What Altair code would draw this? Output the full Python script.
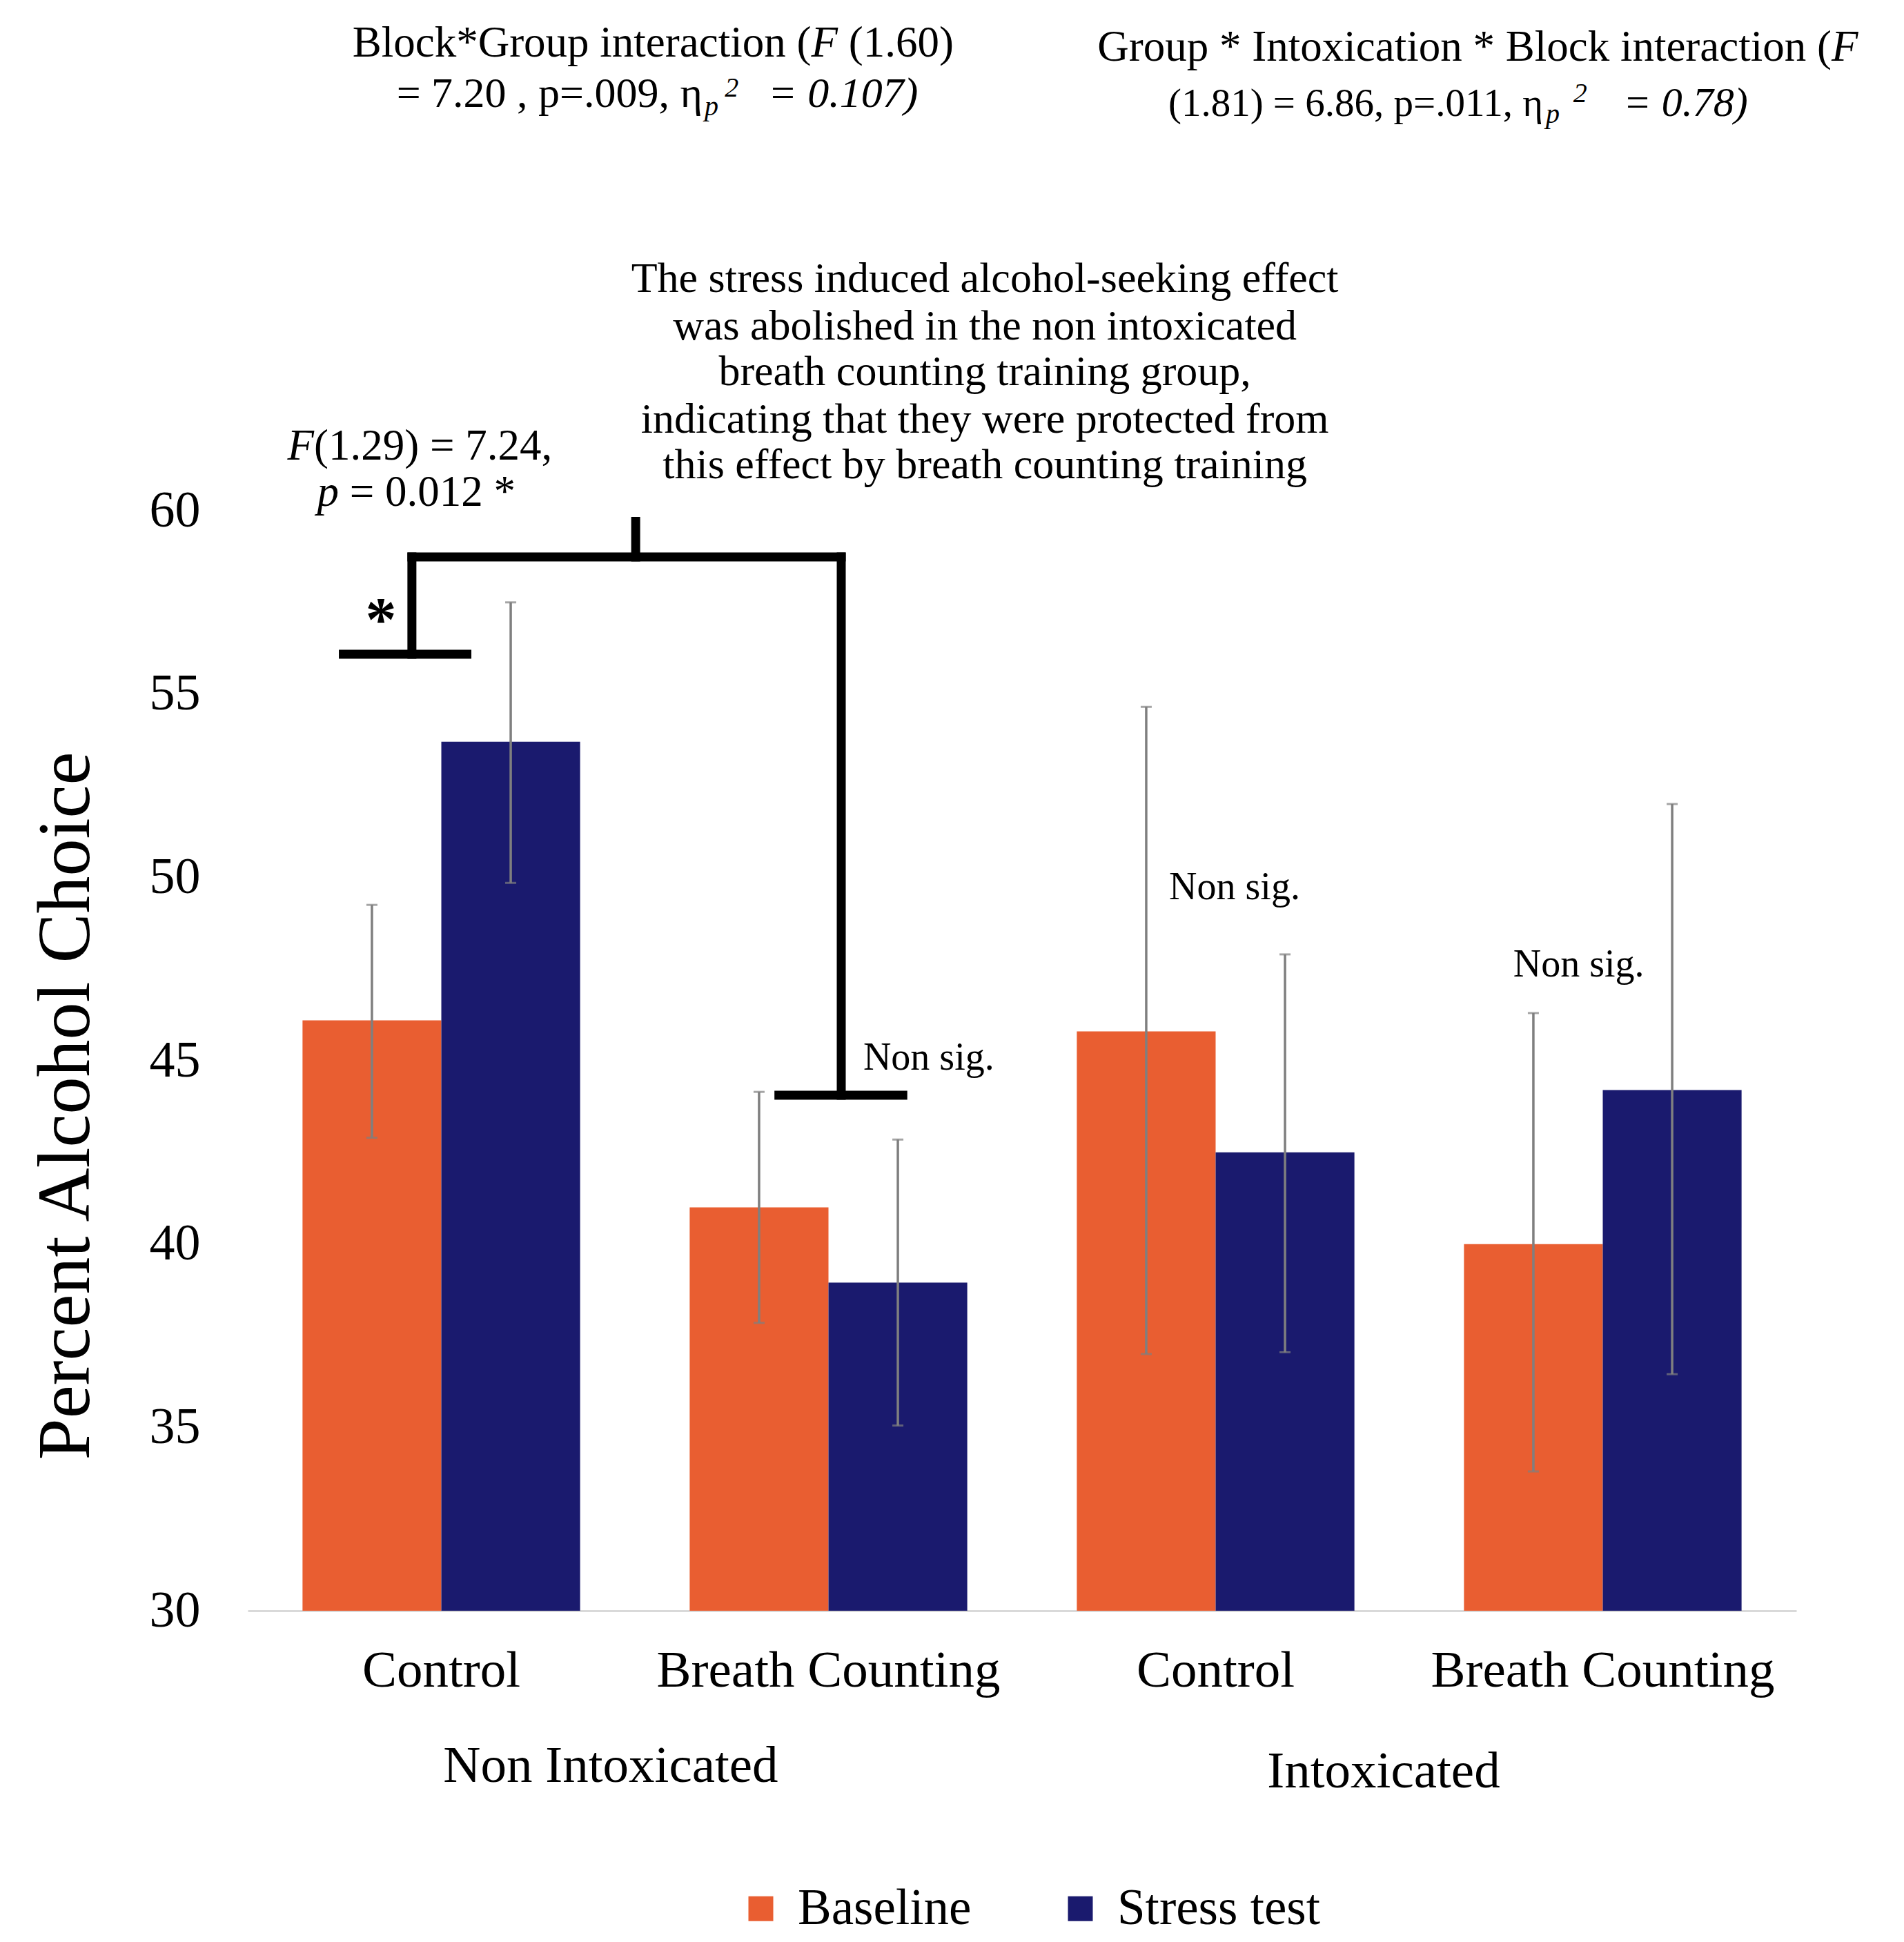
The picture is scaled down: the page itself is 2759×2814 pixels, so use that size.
import altair as alt
import pandas as pd

# ---------------- data ----------------
intox = ["Non Intoxicated", "Non Intoxicated", "Intoxicated", "Intoxicated"]
training = ["Control", "Breath Counting", "Control", "Breath Counting"]
series = ["Baseline", "Stress test"]
colors = ["#E95E31", "#1A1A6E"]

baseline_mean = [46.1, 41.0, 45.8, 40.0]
baseline_low = [42.9, 37.85, 37.0, 33.8]
baseline_high = [49.25, 44.15, 54.65, 46.3]
stress_mean = [53.7, 38.95, 42.5, 44.2]
stress_low = [49.85, 35.05, 37.05, 36.45]
stress_high = [57.5, 42.85, 47.9, 52.0]

y_ticks = [30, 35, 40, 45, 50, 55, 60]

# annotation texts (x in group units 0..4, y in data units)
center_texts = [
    "The stress induced alcohol-seeking effect",
    "was abolished in the non intoxicated",
    "breath counting training group,",
    "indicating that they were protected from",
    "this effect by breath counting training",
    "Non sig.",
    "Non sig.",
    "Non sig.",
    "Non Intoxicated",
    "Intoxicated",
]
center_x = [1.904, 1.904, 1.904, 1.904, 1.904, 1.759, 2.549, 3.438, 0.9376, 2.934]
center_y = [65.966, 64.668, 63.426, 62.127, 60.885, 44.755, 49.40, 47.30, 25.33, 25.18]
center_fs = [62, 62, 62, 62, 62, 56, 56, 56, 75, 75]

right_texts = ["Block*Group interaction (", "Group * Intoxication * Block interaction (",
               "= 7.20 , p=.009, η", "(1.81) = 6.86, p=.011, η"]
right_x = [1.4554, 4.0909, 1.1747, 3.346]
right_y = [72.385, 72.27, 71.01, 70.766]
right_fs = [63, 63, 62, 57]

left_texts = ["(1.60)", "(1.29) = 7.24,", "= 0.012 *"]
left_x = [1.5521, 0.1711, 0.2634]
left_y = [72.385, 61.39, 60.13]
left_fs = [63, 63, 63]

italic_left_texts = ["F", "p", "2", "= 0.107)", "p", "2", "= 0.78)"]
italic_left_x = [1.4554, 1.180, 1.232, 1.344, 3.353, 3.424, 3.553]
italic_left_y = [72.385, 70.785, 71.293, 71.01, 70.578, 71.14, 70.766]
italic_left_fs = [63, 40, 40, 62, 40, 40, 60]

italic_right_texts = ["F", "F", "p"]
italic_right_x = [4.1595, 0.1711, 0.2353]
italic_right_y = [72.27, 61.39, 60.13]
italic_right_fs = [63, 63, 63]

star_text = ["*"]
star_x = [0.344]
star_y = [56.46]

# significance brackets
br_x1 = [0.247, 0.424, 0.424, 1.002, 1.533, 1.372]
br_x2 = [0.566, 0.424, 1.533, 1.002, 1.533, 1.692]
br_y1 = [56.085, 56.085, 58.74, 58.74, 58.74, 44.06]
br_y2 = [56.085, 58.74, 58.74, 59.71, 44.06, 44.06]

# ---------------- tables ----------------
conds = [f"{a}|{b}" for a, b in zip(intox, training)]
rows = []
for i, c in enumerate(conds):
    rows.append(dict(cond=c, series="Baseline", mean=baseline_mean[i],
                     lo=baseline_low[i], hi=baseline_high[i]))
    rows.append(dict(cond=c, series="Stress test", mean=stress_mean[i],
                     lo=stress_low[i], hi=stress_high[i]))
df = pd.DataFrame(rows)
caps = pd.concat([
    df[["cond", "series"]].assign(v=df["lo"]),
    df[["cond", "series"]].assign(v=df["hi"]),
])


def tdf(x, y, text, fs):
    return pd.DataFrame(dict(ax=x, y=y, text=text, fs=fs))


ctext = tdf(center_x, center_y, center_texts, center_fs)
rtext = tdf(right_x, right_y, right_texts, right_fs)
ltext = tdf(left_x, left_y, left_texts, left_fs)
iltext = tdf(italic_left_x, italic_left_y, italic_left_texts, italic_left_fs)
irtext = tdf(italic_right_x, italic_right_y, italic_right_texts, italic_right_fs)
stext = pd.DataFrame(dict(ax=star_x, y=star_y, text=star_text))
brk = pd.DataFrame(dict(x1=br_x1, x2=br_x2, y1=br_y1, y2=br_y2))

FONT = "Liberation Serif"


def yscale():
    return alt.Scale(domain=[30, 60], nice=False, zero=False)


def ax_scale():
    return alt.Scale(domain=[0, 4], nice=False, zero=False)


def band_scale():
    return alt.Scale(domain=conds, paddingInner=0.283, paddingOuter=0.1415)


x_main = alt.X(
    "cond:N", sort=conds, scale=band_scale(),
    axis=alt.Axis(
        title=None, labelExpr="split(datum.value, '|')[1]", labelAngle=0,
        labelFont=FONT, labelFontSize=75, labelColor="black", labelLimit=1000,
        labelBaseline="alphabetic", labelPadding=109, ticks=False, tickSize=0,
        domainColor="#D9D9D9", domainWidth=3, grid=False, labelOverlap=False,
    ),
)


def x_plain():
    return alt.X("cond:N", sort=conds, scale=band_scale(), axis=None)


xoff = alt.XOffset("series:N", sort=series,
                   scale=alt.Scale(domain=series, paddingInner=0, paddingOuter=0))

bars = alt.Chart(df).mark_bar().encode(
    x=x_main,
    xOffset=xoff,
    y=alt.Y("mean:Q", scale=yscale(), axis=alt.Axis(
        values=y_ticks, title="Percent Alcohol Choice", grid=False,
        domain=False, ticks=False, tickSize=0, labelPadding=69,
        labelFont=FONT, labelFontSize=74, labelColor="black",
        labelOverlap=False,
        titleFont=FONT, titleFontSize=108, titleFontWeight="normal",
        titleColor="black", titleX=-231, titleY=862,
        titleBaseline="alphabetic", titleAngle=270, orient="left",
    )),
    y2=alt.datum(30),
    color=alt.Color("series:N", sort=series,
                    scale=alt.Scale(domain=series, range=colors),
                    legend=alt.Legend(
                        title=None, orient="none", legendX=707, legendY=1989,
                        direction="horizontal", symbolType="square",
                        symbolSize=1296, symbolStrokeWidth=0,
                        labelFont=FONT, labelFontSize=73, labelColor="black",
                        labelLimit=1000, labelOffset=17, columnPadding=121,
                        padding=0,
                    )),
)

err = alt.Chart(df).mark_rule(color="#7F7F7F", strokeWidth=3.5).encode(
    x=x_plain(), xOffset=xoff,
    y=alt.Y("lo:Q", scale=yscale(), axis=None), y2="hi:Q",
)
capm = alt.Chart(caps).mark_tick(color="#7F7F7F", thickness=3, size=16).encode(
    x=x_plain(), xOffset=xoff,
    y=alt.Y("v:Q", scale=yscale(), axis=None),
)

bracket = alt.Chart(brk).mark_rule(color="black", strokeWidth=13,
                                   strokeCap="square").encode(
    x=alt.X("x1:Q", scale=ax_scale(), axis=None), x2="x2:Q",
    y=alt.Y("y1:Q", scale=yscale(), axis=None), y2="y2:Q",
)


def text_layer(data, align, style="normal"):
    return alt.Chart(data).mark_text(
        font=FONT, align=align, baseline="alphabetic", color="black",
        fontStyle=style,
    ).encode(
        x=alt.X("ax:Q", scale=ax_scale(), axis=None),
        y=alt.Y("y:Q", scale=yscale(), axis=None),
        text="text:N",
        size=alt.Size("fs:Q", scale=None),
    )


t_center = text_layer(ctext, "center")
t_right = text_layer(rtext, "right")
t_left = text_layer(ltext, "left")
t_ileft = text_layer(iltext, "left", style="italic")
t_iright = text_layer(irtext, "right", style="italic")
t_star = alt.Chart(stext).mark_text(
    font=FONT, align="center", baseline="alphabetic", color="black",
    fontSize=90, fontWeight="bold",
).encode(
    x=alt.X("ax:Q", scale=ax_scale(), axis=None),
    y=alt.Y("y:Q", scale=yscale(), axis=None),
    text="text:N",
)

chart = alt.layer(
    bars, err, capm, bracket, t_center, t_right, t_left, t_ileft, t_iright, t_star
).resolve_scale(x="independent").resolve_axis(
    x="independent", y="independent"
).properties(
    width=2244, height=1594,
    autosize=alt.AutoSizeParams(type="none"),
    padding={"left": 351, "top": 732, "right": 140, "bottom": 472},
    background="white",
).configure_view(stroke=None)

chart.save("out.html", embed_options={"renderer": "svg", "actions": False})
